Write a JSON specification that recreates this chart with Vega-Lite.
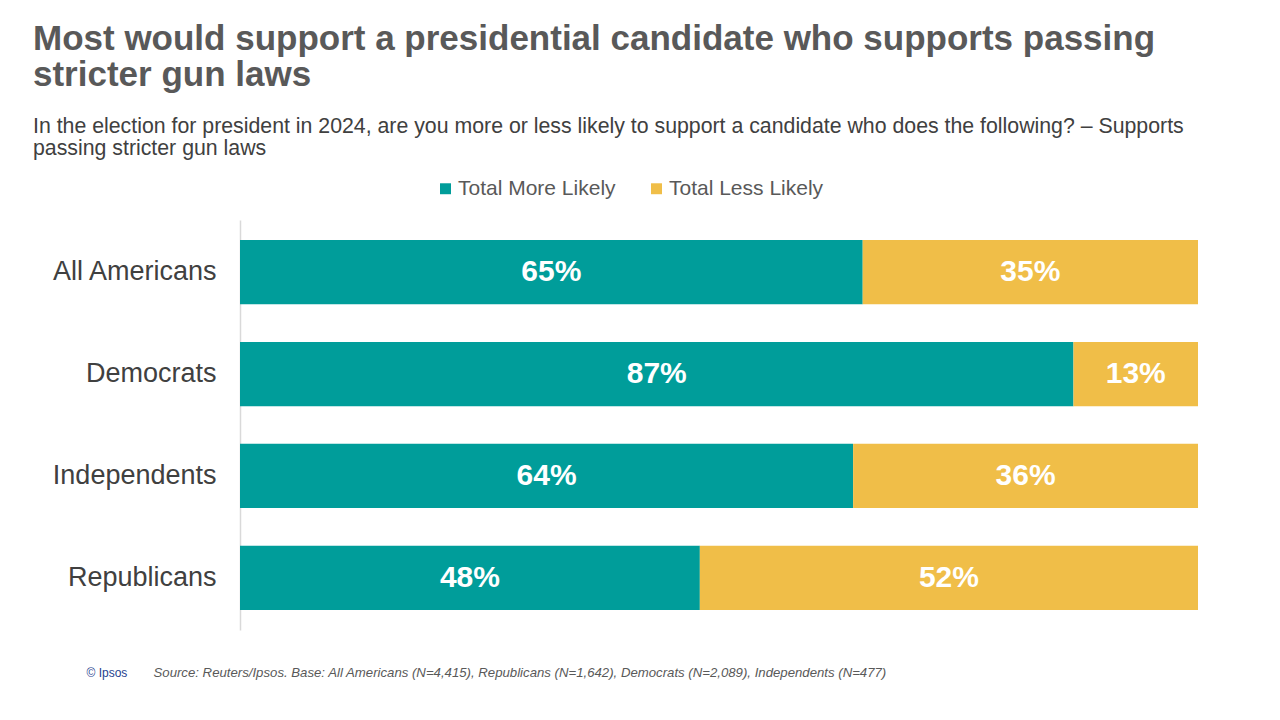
{
  "$schema": "https://vega.github.io/schema/vega-lite/v6.json",
  "width": 958,
  "height": 410,
  "autosize": {"type": "none"},
  "padding": {"left": 240, "top": 220, "right": 82, "bottom": 90},
  "background": "white",
  "config": {"view": {"stroke": null}, "font": "Liberation Sans"},
  "title": {
    "text": ["Most would support a presidential candidate who supports passing", "stricter gun laws"],
    "subtitle": ["In the election for president in 2024, are you more or less likely to support a candidate who does the following? – Supports", "passing stricter gun laws"],
    "anchor": "start",
    "frame": "group",
    "dx": -207,
    "fontSize": 35,
    "fontWeight": "bold",
    "color": "#595959",
    "lineHeight": 36,
    "subtitleFontSize": 21.3,
    "subtitleColor": "#404040",
    "subtitleLineHeight": 22,
    "subtitlePadding": 23,
    "offset": 19
  },
  "data": {
    "values": [
      {"group": "All Americans", "response": "Total More Likely", "value": 65, "ord": 1},
      {"group": "All Americans", "response": "Total Less Likely", "value": 35, "ord": 2},
      {"group": "Democrats", "response": "Total More Likely", "value": 87, "ord": 1},
      {"group": "Democrats", "response": "Total Less Likely", "value": 13, "ord": 2},
      {"group": "Independents", "response": "Total More Likely", "value": 64, "ord": 1},
      {"group": "Independents", "response": "Total Less Likely", "value": 36, "ord": 2},
      {"group": "Republicans", "response": "Total More Likely", "value": 48, "ord": 1},
      {"group": "Republicans", "response": "Total Less Likely", "value": 52, "ord": 2}
    ]
  },
  "transform": [
    {"stack": "value", "groupby": ["group"], "sort": [{"field": "ord"}], "as": ["v0", "v1"]},
    {"calculate": "(datum.v0 + datum.v1) / 2", "as": "mid"},
    {"calculate": "datum.value + '%'", "as": "label"}
  ],
  "encoding": {
    "y": {
      "field": "group",
      "type": "nominal",
      "sort": ["All Americans", "Democrats", "Independents", "Republicans"],
      "scale": {"paddingInner": 0.37, "paddingOuter": 0.195},
      "axis": {
        "title": "© Ipsos",
        "titleAngle": 0,
        "titleX": -154,
        "titleY": 456,
        "titleAlign": "left",
        "titleBaseline": "alphabetic",
        "titleFontSize": 12,
        "titleFontWeight": "normal",
        "titleColor": "#1F3F8F",
        "labelFontSize": 27,
        "labelColor": "#404040",
        "labelPadding": 24,
        "ticks": false,
        "domainColor": "#D9D9D9",
        "domainWidth": 1.5
      }
    }
  },
  "layer": [
    {
      "mark": {"type": "bar"},
      "encoding": {
        "x": {
          "field": "v0",
          "type": "quantitative",
          "scale": {"domain": [0, 100], "nice": false},
          "axis": {
            "title": "Source: Reuters/Ipsos. Base: All Americans (N=4,415),  Republicans (N=1,642),  Democrats (N=2,089),  Independents  (N=477)",
            "titleX": -87,
            "titleY": 46,
            "titleAlign": "left",
            "titleAnchor": "start",
            "titleBaseline": "alphabetic",
            "titleFontSize": 13.2,
            "titleFontStyle": "italic",
            "titleFontWeight": "normal",
            "titleColor": "#595959",
            "labels": false,
            "ticks": false,
            "domain": false,
            "grid": false
          }
        },
        "x2": {"field": "v1"},
        "color": {
          "field": "response",
          "type": "nominal",
          "sort": ["Total More Likely", "Total Less Likely"],
          "scale": {"domain": ["Total More Likely", "Total Less Likely"], "range": ["#009D9A", "#F0BE48"]},
          "legend": {
            "title": null,
            "orient": "none",
            "legendX": 195,
            "legendY": -42,
            "direction": "horizontal",
            "symbolType": "square",
            "symbolSize": 120,
            "symbolStrokeWidth": 0,
            "labelFontSize": 21,
            "labelColor": "#595959",
            "columnPadding": 30,
            "labelOffset": 2
          }
        }
      }
    },
    {
      "mark": {"type": "text", "color": "white", "fontSize": 30, "fontWeight": "bold", "baseline": "middle"},
      "encoding": {
        "x": {"field": "mid", "type": "quantitative"},
        "text": {"field": "label", "type": "nominal"}
      }
    }
  ]
}
